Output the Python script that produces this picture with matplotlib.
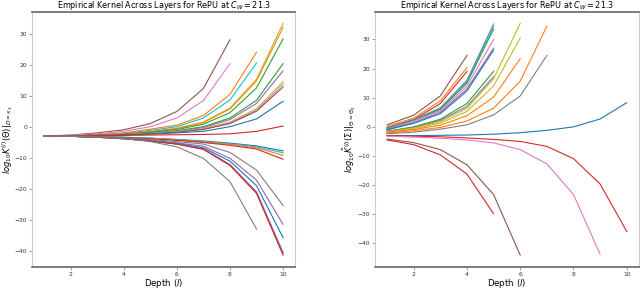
import matplotlib
matplotlib.use("Agg")
import matplotlib.pyplot as plt

# depth values start at 1; each line stops where its run stopped
# left panel: empirical kernel, log10 values per depth
left_lines = [
    [-3, -2.7, -2.0, -1.0, 1.0, 4.9, 12.3, 28.0],
    [-3, -2.8, -2.3, -1.5, 0.0, 2.8, 8.4, 20.3],
    [-3, -2.9, -2.6, -2.0, -0.8, 0.5, 3.6, 10.4, 24.0],
    [-3, -2.9, -2.7, -2.2, -1.2, 0.0, 2.8, 8.6, 20.5],
    [-3, -2.9, -2.7, -2.3, -1.6, -0.5, 1.5, 6.0, 15.3, 33.3],
    [-3, -2.9, -2.7, -2.3, -1.6, -0.6, 1.3, 5.7, 14.8, 32.0],
    [-3, -2.9, -2.8, -2.4, -1.8, -0.9, 0.8, 4.5, 12.5, 28.3],
    [-3, -2.9, -2.8, -2.5, -2.0, -1.3, 0.0, 2.8, 8.5, 20.3],
    [-3, -2.9, -2.8, -2.5, -2.1, -1.4, -0.3, 2.3, 7.5, 18.0],
    [-3, -2.9, -2.8, -2.6, -2.2, -1.6, -0.6, 1.5, 5.8, 14.5],
    [-3, -2.9, -2.8, -2.6, -2.2, -1.7, -0.8, 1.2, 5.3, 13.7],
    [-3, -2.9, -2.8, -2.6, -2.3, -1.8, -0.9, 1.0, 5.0, 12.8],
    [-3, -2.9, -2.8, -2.7, -2.4, -2.0, -1.5, 0.0, 2.5, 8.2],
    [-3, -2.95, -2.9, -2.8, -2.7, -2.6, -2.5, -2.3, -1.5, 0.2],
    [-3, -3.1, -3.2, -3.4, -3.7, -4.1, -4.6, -5.3, -6.2, -7.8],
    [-3, -3.1, -3.2, -3.4, -3.7, -4.2, -4.8, -5.5, -6.5, -8.4],
    [-3, -3.1, -3.2, -3.5, -3.8, -4.3, -4.9, -5.7, -6.8, -9.2],
    [-3, -3.1, -3.3, -3.5, -3.9, -4.4, -5.1, -6.0, -7.2, -10.5],
    [-3, -3.1, -3.3, -3.6, -4.1, -4.8, -5.6, -8.3, -14.0, -25.4],
    [-3, -3.1, -3.4, -3.8, -4.4, -5.2, -6.3, -10.2, -17.2, -31.5],
    [-3, -3.1, -3.4, -3.8, -4.5, -5.4, -6.8, -11.1, -19.0, -35.8],
    [-3, -3.1, -3.4, -3.9, -4.6, -5.6, -7.2, -12.3, -21.2, -41.0],
    [-3, -3.1, -3.4, -3.9, -4.6, -5.6, -7.2, -12.2, -21.0, -40.5],
    [-3, -3.1, -3.4, -3.9, -4.6, -5.6, -7.3, -12.5, -21.5, -41.4],
    [-3, -3.1, -3.3, -3.8, -4.8, -6.5, -10.2, -17.7, -33.0],
]
left_colors = ["C5", "C6", "C1", "C9", "C8", "C1", "C2", "C2", "C4", "C8",
               "C6", "C5", "C0", "C3", "C0", "C9", "C1", "C3", "C7", "C4",
               "C0", "C2", "C4", "C3", "C7"]

# right panel: rescaled kernel
right_lines = [
    [0.7, 4.0, 10.6, 24.5],
    [0.2, 3.0, 8.9, 20.3],
    [-0.3, 2.5, 8.0, 19.0],
    [-0.5, 2.5, 6.5, 16.0, 35.3],
    [-0.5, 2.3, 6.3, 15.5, 34.5],
    [-0.7, 2.2, 6.0, 15.0, 33.5],
    [-0.8, 2.0, 5.5, 14.0, 30.0],
    [-1.0, 1.5, 5.0, 13.0, 27.0],
    [-1.0, 1.2, 4.5, 12.3, 26.3],
    [-1.5, 0.0, 2.6, 8.0, 19.0],
    [-1.6, -0.2, 2.2, 7.0, 17.2],
    [-1.7, -0.4, 1.8, 6.3, 16.5, 35.5],
    [-1.8, -0.6, 1.3, 5.3, 14.0, 30.5],
    [-1.9, -0.9, 0.6, 3.8, 10.2, 23.4],
    [-2.1, -1.3, -0.2, 2.0, 6.4, 15.7, 34.5],
    [-2.4, -1.8, -0.8, 0.7, 4.1, 10.6, 24.5],
    [-3.0, -3.0, -2.9, -2.8, -2.5, -2.0, -1.2, 0.0, 2.7, 8.3],
    [-3.0, -3.2, -3.4, -3.8, -4.3, -5.0, -6.7, -10.9, -19.6, -35.9],
    [-3.2, -3.5, -3.9, -4.5, -5.5, -7.8, -12.7, -23.2, -43.7],
    [-4.2, -5.4, -7.8, -13.0, -23.2, -44.0],
    [-4.5, -6.1, -9.6, -16.2, -29.8],
]
right_colors = ["C5", "C1", "C3", "C4", "C9", "C2", "C6", "C4", "C0", "C2",
                "C4", "C8", "C8", "C1", "C1", "C7", "C0", "C3", "C6", "C5",
                "C3"]

title = r"Empirical Kernel Across Layers for RePU at $C_W = 21.3$"
left_ylabel = r"$log_{10}K^{(l)}(\Theta)|_{D=x_3}$"
right_ylabel = r"$log_{10}\tilde{K}^{(l)}(\Sigma)|_{\Theta=\Theta_3}$"

fig = plt.figure(figsize=(6.4, 2.88), dpi=100)
ax1 = fig.add_axes([0.05, 0.074, 0.411, 0.885])
ax2 = fig.add_axes([0.586, 0.074, 0.412, 0.885])


def draw(ax, lines, colors, ylabel):
    for vals, c in zip(lines, colors):
        depth = list(range(1, len(vals) + 1))
        ax.plot(depth, vals, color=c, lw=0.8)
    ax.set_title(title, fontsize=5.8, pad=1)
    ax.set_xlabel("Depth ($l$)", fontsize=6.2, labelpad=0)
    ax.set_ylabel(ylabel, fontsize=6, labelpad=0)
    ax.set_xticks([2, 4, 6, 8, 10])
    ax.set_yticks([-40, -30, -20, -10, 0, 10, 20, 30])
    ax.tick_params(labelsize=4.3, length=2, width=0.5, color="#777", pad=1.5,
                   labelcolor="#333")
    for s in ["top", "bottom"]:
        ax.spines[s].set_color("#666")
        ax.spines[s].set_linewidth(1.2)
    for s in ["left", "right"]:
        ax.spines[s].set_color("#ccc")
        ax.spines[s].set_linewidth(0.8)


draw(ax1, left_lines, left_colors, left_ylabel)
draw(ax2, right_lines, right_colors, right_ylabel)

fig.savefig("out.png", dpi=100)
